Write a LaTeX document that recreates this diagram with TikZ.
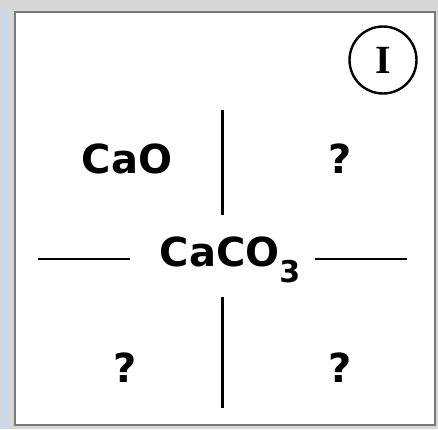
\documentclass[tikz,border=0pt]{standalone}
\usepackage{fontspec}
\setmainfont{DejaVu Sans}
\newfontfamily\markfont{Liberation Serif}
\usepackage{tikz}
\usetikzlibrary{positioning}
\definecolor{panelgray}{HTML}{D6D6D6}
\definecolor{panelblue}{HTML}{C9D9EC}
\definecolor{frameline}{HTML}{7A7A7A}
\tikzset{
    every node/.style={font=\bfseries\fontsize{40}{48}\selectfont},
    formula/.style={inner sep=0pt,anchor=base},
    crossline/.style={line width=2.8pt,draw=black},
    marker/.style={circle,draw,line width=2.4pt,minimum size=67pt,inner sep=0pt,
        font=\markfont\bfseries\fontsize{40}{48}\selectfont}
}
\begin{document}
\begin{tikzpicture}[x=1pt,y=-1pt]
\useasboundingbox (0,0) rectangle (438,429);
\fill[panelgray] (0,0) rectangle (438,429);
\fill[panelblue] (2,10) rectangle (8,429);
\draw[frameline,line width=2pt,fill=white] (15,12) rectangle (435,425);
% labels
\node[marker] (mark) at (383,60) {I};
\node[formula] (ctr) at (230,266) {CaCO\raisebox{-0.4em}{\fontsize{30}{32}\selectfont 3}};
\node[formula] (tl) at (127,173) {CaO};
\node[formula] (tr) at (340,173) {?};
\node[formula] (bl) at (125,382) {?};
\node[formula] (br) at (340,382) {?};
% the cross
\coordinate (up1) at (222.5,110);
\coordinate (up2) at (222.5,215);
\coordinate (dn1) at (222.5,297);
\coordinate (dn2) at (222.5,408);
\coordinate (lf1) at (38,259);
\coordinate (lf2) at (130,259);
\coordinate (rt1) at (315,259);
\coordinate (rt2) at (407,259);
\draw[crossline] (up1) -- (up2);
\draw[crossline] (dn1) -- (dn2);
\draw[crossline] (lf1) -- (lf2);
\draw[crossline] (rt1) -- (rt2);
\end{tikzpicture}
\end{document}
